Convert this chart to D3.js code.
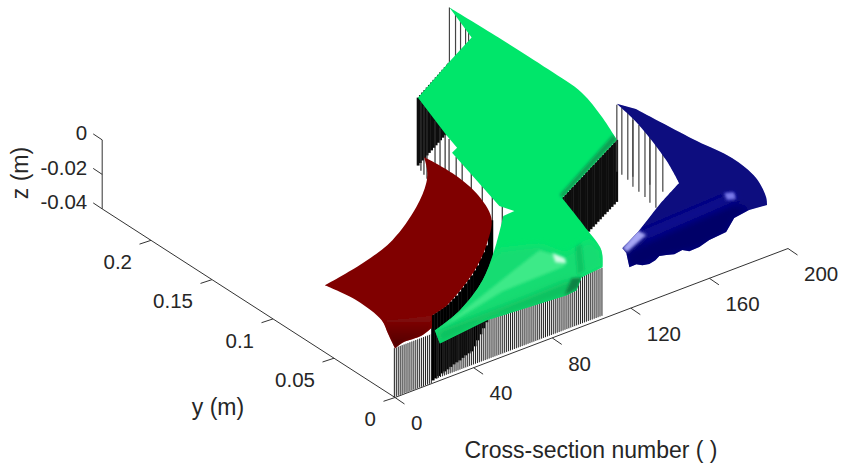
<!DOCTYPE html>
<html><head><meta charset="utf-8">
<script src="https://cdn.jsdelivr.net/npm/d3@7"></script>
<style>html,body{margin:0;background:#fff}svg{display:block}text{font-family:"Liberation Sans",Arial,sans-serif;fill:#262626}</style>
</head><body><svg id="c" width="841" height="464"></svg>
<script>
// axis ticks
const xTicks=[0,40,80,120,160,200];
const yTicks=[0,0.05,0.1,0.15,0.2];
const zTicks=[-0.04,-0.02,0];
// surfaces: [cross-section, y, z]
const redOutline=[[9,.0696,-.0116],[32.35,.0756,-.0116],[53.6,.0847,-.0116],[77.96,.1033,-.0116],[93.24,.119,-.0116],[100.1,.1289,-.0116],[105.66,.1399,-.0116],[106.68,.1192,-.0116],[104.39,.0966,-.0116],[96.69,.0727,-.0116],[81.51,.0532,-.0116],[67.21,.039,-.0116],[52.65,.0275,-.0116],[38.42,.0182,-.0116],[28.55,.0148,-.0116],[22.52,.0055,-.0116],[15.26,.0022,-.0116],[5.6,.0023,-.0116],[0,0,-.0116],[5.27,.0137,-.0116],[9.86,.0256,-.0116],[11.82,.0485,-.0116]];
const redCorners=[0,6,14,15,18];
const redFront=[[9.86,.0256,-.0116],[18.3,.0204,-.0116],[28.55,.0148,-.0116],[22.52,.0055,-.0116],[15.26,.0022,-.0116],[5.6,.0023,-.0116],[0,0,-.0116],[5.27,.0137,-.0116]];
const greenOutline=[[182.39,.2381,-.004],[183.17,.2004,-.004],[183.27,.1608,-.004],[182.39,.1332,-.004],[176.8,.1087,-.004],[170.1,.0864,-.004],[123.17,.0574,-.004],[115.18,.0251,-.004],[116.19,.0156,-.0116],[107.97,.002,-.0116],[96.16,.0004,-.0116],[95.29,.003,-.02],[89.55,.0021,-.02],[51.11,.0061,-.02],[24.36,.002,-.02],[29.27,.0136,-.02],[40.11,.0105,-.0116],[62.62,.0271,-.0116],[85.74,.0518,-.0116],[101.58,.0708,-.0116],[101.12,.0613,-.004],[98.77,.0696,-.004],[110.19,.1247,-.004],[114.33,.1271,-.004],[117.3,.1404,-.004],[126.83,.1774,-.004],[154.44,.1956,-.004],[174.44,.2083,-.004]];
const greenCorners=[0,5,6,9,10,11,12,13,14,15,19,20,21,22,23,24,25,26,27];
const greenLower=[[29.27,.0136,-.02],[90.48,.0568,-.02],[105.93,.0489,-.02],[109.32,.0335,-.02],[124.61,.0381,-.02],[123.48,.0268,-.02],[115.26,.0133,-.02],[103.44,.0117,-.02],[95.29,.003,-.02],[89.55,.0021,-.02],[51.11,.0061,-.02],[24.36,.002,-.02]];
const greenSheen=[[29.42,.0122,-.02],[103.42,.045,-.02],[107.81,.0312,-.02],[103.47,.0252,-.02],[70.87,.024,-.02]];
const greenGlint=[[106.12,.0389,-.02],[107.49,.0315,-.02],[105.63,.027,-.02],[102.57,.031,-.02]];
const greenUnder=[[24.36,.002,-.02],[29.42,.0122,-.02],[71.83,.012,-.02],[98.06,.0129,-.02],[95.29,.003,-.02],[89.55,.0021,-.02],[51.11,.0061,-.02]];
const greenPatch=[[88.9,.0027,-.02],[96.62,.0043,-.02],[103.76,.0114,-.02],[99.7,.0139,-.02]];
const greenBand=[[116.58,.0368,-.02],[120.53,.0382,-.02],[107.93,.0163,-.02],[103.15,.0144,-.02]];
const greenEdge=[[170.1,.0864,-.004],[123.17,.0574,-.004],[123.9,.0605,-.004],[171.5,.0915,-.004]];
const blueOutline=[[185.67,.1105,-.0012],[189.31,.101,-.0012],[192.96,.0582,-.0012],[195.74,.0347,-.0012],[193.45,.0121,-.0012],[196.19,.0084,-.0116],[192.49,.0019,-.0116],[191.44,.0145,-.02],[182.58,.0127,-.02],[172.95,.0042,-.02],[163.43,.0029,-.02],[156.69,.0004,-.02],[151.44,.0002,-.02],[149.68,.0031,-.02],[145.08,.0023,-.02],[141.99,.0039,-.02],[139.22,.0052,-.02],[135.91,.0032,-.02],[131.97,.0019,-.02],[129.2,.0031,-.02],[127.77,.0057,-.02],[123.99,.0054,-.02],[130.05,.0172,-.02],[131.27,.0222,-.02],[129.49,.006,-.0012],[148.52,.0196,-.0012],[166.04,.0308,-.0012],[173.39,.0525,-.0012],[182.24,.0877,-.0012]];
const blueCorners=[0,1,6,7,8,9,10,11,12,13,14,15,16,17,18,19,20,21,22,23,26];
const blueUnder=[[130.05,.0172,-.02],[159.76,.0211,-.02],[189.11,.0228,-.02],[191.44,.0145,-.02],[182.58,.0127,-.02],[172.95,.0042,-.02],[156.69,.0004,-.02],[141.99,.0039,-.02],[129.2,.0031,-.02],[123.99,.0054,-.02]];
const blueStreak=[[144.81,.0297,-.02],[195.64,.033,-.02],[192.59,.0259,-.02],[142.41,.022,-.02]];
const blueGlint=[[191.9,.0351,-.02],[195.64,.033,-.02],[192.76,.0269,-.02],[189.35,.0288,-.02]];
const blueTip=[[131.27,.0222,-.02],[145.17,.0319,-.02],[145.56,.0253,-.02],[130.88,.0177,-.02]];
// vertical stems: [cross-section, y, z of the top]
const stemsRight=[[124,.0579],[126,.0591],[128,.0604],[130,.0616],[132,.0629],[134,.0641],[136,.0653],[138,.0666],[140,.0678],[142,.069],[144,.0703],[146,.0715],[148,.0728],[150,.074],[152,.0752],[154,.0765],[156,.0777],[158,.079],[160,.0802],[162,.0814],[164,.0827],[166,.0839],[168,.0851],[170,.0864]];
const stemsLeft=[[124,.1729],[126,.1742],[128,.1755],[130,.1768],[132,.1781],[134,.1794],[136,.1807],[138,.182],[140,.1833],[142,.1846],[144,.1859],[146,.1872],[148,.1885],[150,.1898],[151.4,.1907]];
const stemsEdge=[[122.27,.168],[121.23,.164],[120.19,.16],[117.26,.1491],[115.36,.1422],[113.96,.136],[112.74,.131],[105.96,.1149],[105.4,.1093],[103.28,.0988],[100.3,.0855],[98.52,.0748],[96.72,.0641]];
const stemsTip=[[178.87,.2327],[177.8,.2262],[175.9,.2193],[174.01,.2124],[172.97,.2084]];
const stemsRed=[[20.83,.0021,-.0017],[22.81,.0028,-.0017],[25.03,.0038,-.002],[27.26,.0049,-.0023],[29.23,.0056,-.0023],[31.21,.0063,-.0023],[33.43,.0073,-.002],[35.66,.0084,-.0017],[37.63,.0091,-.0012],[39.61,.0097,0],[41.84,.0108,.0009],[44.07,.0119,.0017],[46.05,.0125,.0029],[48.02,.0132,.0041],[51.5,.0162,.0041],[55.49,.02,.0035],[59.47,.0238,.0041],[63.45,.0276,.0041],[67.44,.0314,.0046],[71.93,.036,.0081],[74.08,.0377,.0133]];
const stemsBlue=[[185.17,.1097],[185.28,.1059],[184.71,.1003],[182.81,.0933],[187.84,.1011],[182.24,.0877],[181.67,.082],[180.27,.0759],[189.32,.0899],[179.7,.0703],[190,.0807]];
const frontRedSections=d3.range(0,20), frontRedY=.0005, frontRedZ=-.0116;
const frontGreenSections=d3.range(23,109), frontGreenY=.0025, frontGreenZ=-.0122;

const ox=395, oy=397.5;
const xU=d3.scaleLinear([0,200],[0,393]), xV=d3.scaleLinear([0,200],[0,-149]);
const yU=d3.scaleLinear([0,.24],[0,-292.8]), yV=d3.scaleLinear([0,.24],[0,-188.6]);
const zV=d3.scaleLinear([-.04,0],[0,-69]);
const P=(s,y,z)=>[ox+xU(s)+yU(y), oy+xV(s)+yV(y)+zV(z)];
// surface readings were taken against slightly different axis lengths
const sRead=.99, yRead=1.034;
const M=(s,y,z)=>P(s*sRead,y*yRead,z);

const svg=d3.select('#c');
const defs=svg.append('defs');
defs.append('filter').attr('id','b0').append('feGaussianBlur').attr('stdDeviation',.4);
defs.append('filter').attr('id','b1').attr('x','-20%').attr('y','-20%').attr('width','140%').attr('height','140%').append('feGaussianBlur').attr('stdDeviation',1.5);
defs.append('filter').attr('id','b2').attr('x','-30%').attr('y','-30%').attr('width','160%').attr('height','160%').append('feGaussianBlur').attr('stdDeviation',3.5);
const lg=(id,a,b,dir)=>{const g=defs.append('linearGradient').attr('id',id).attr('x1',0).attr('y1',0).attr('x2',dir?1:0).attr('y2',dir?0:1);
 g.append('stop').attr('offset',0).attr('stop-color',a);g.append('stop').attr('offset',1).attr('stop-color',b);};
lg('redG','#860808','#4c0000');

const root=svg.append('g').attr('filter','url(#b0)');
const line=d3.line();
const smooth=d3.line().curve(d3.curveCatmullRom.alpha(.5));
const outlinePath=(pts,corners)=>{
  const xy=pts.map(d=>M(d[0],d[1],d[2]));let out='';
  corners.forEach((c,i)=>{const e=i<corners.length-1?corners[i+1]:xy.length;
    const seg=xy.slice(c,e).concat(e===xy.length?[xy[0]]:[xy[e]]);
    const d=smooth(seg);out+=i===0?d:'L'+d.slice(1);});
  return out+'Z';};
const stems=(g,rows,z,w,col)=>g.selectAll(null).data(rows).join('line')
  .attr('x1',d=>M(d[0],d[1],d.length>2?d[2]:z)[0]).attr('y1',d=>M(d[0],d[1],d.length>2?d[2]:z)[1])
  .attr('x2',d=>M(d[0],d[1],-.04)[0]).attr('y2',d=>M(d[0],d[1],-.04)[1])
  .attr('stroke',col).attr('stroke-width',w);
const poly=(pts,fill,filter,g)=>{const p=(g||root).append('path').attr('d',line(pts.map(d=>M(d[0],d[1],d[2])))+'Z').attr('fill',fill);
  if(filter)p.attr('filter',`url(#${filter})`);return p;};

// axes
const ax=root.append('g').attr('stroke','#333').attr('stroke-width',1).attr('fill','none');
const L=(a,b)=>ax.append('line').attr('x1',a[0]).attr('y1',a[1]).attr('x2',b[0]).attr('y2',b[1]);
L(P(0,0,-.04),P(200,0,-.04));L(P(0,0,-.04),P(0,.24,-.04));L(P(0,.24,-.04),P(0,.24,0));
const tg=svg.append('g').attr('font-size',20.5);
xTicks.forEach(t=>{const a=P(t,0,-.04);L(a,[a[0]+9.5,a[1]+6.5]);
  tg.append('text').attr('x',a[0]+16).attr('y',a[1]+25.5).attr('dy','.35em').text(t);});
yTicks.forEach(t=>{const a=P(0,t,-.04);L(a,[a[0]-11.5,a[1]+3.8]);
  tg.append('text').attr('x',a[0]-19).attr('y',a[1]+21.5).attr('dy','.35em').attr('text-anchor','end').text(t);});
zTicks.forEach(t=>{const a=P(0,.24,t);L(a,[a[0]-9,a[1]-6]);
  tg.append('text').attr('x',a[0]-15).attr('y',a[1]-7).attr('dy','.35em').attr('text-anchor','end').text(t);});
const lb=svg.append('g').attr('font-size',23);
lb.append('text').attr('x',591).attr('y',450).attr('dy','.35em').attr('text-anchor','middle').text('Cross-section number ( )');
lb.append('text').attr('x',218).attr('y',407).attr('dy','.35em').attr('text-anchor','middle').text('y (m)');
lb.append('text').attr('transform','translate(20,173) rotate(-90)').attr('dy','.35em').attr('text-anchor','middle').text('z (m)');

// stems (behind surfaces)
const st=root.append('g');
stems(st.append('g'),stemsRight,-.004,2.8,'#0a0a0a');
stems(st.append('g'),stemsLeft,-.0006,2.8,'#0a0a0a');
stems(st.append('g'),stemsEdge,0,1.2,'#333');
stems(st.append('g'),stemsTip,0,1.2,'#444');
stems(st.append('g'),stemsBlue,-.0012,1.2,'#444');
stems(st.append('g'),stemsRed,null,3.4,'#050505');
stems(st.append('g'),frontRedSections.map(s=>[s,frontRedY,frontRedZ]),null,1,'#222');
stems(st.append('g'),frontGreenSections.map(s=>[s,frontGreenY,frontGreenZ]),null,1,'#222');

// surfaces
const rp=outlinePath(redOutline,redCorners), gp=outlinePath(greenOutline,greenCorners), bp=outlinePath(blueOutline,blueCorners);
defs.append('clipPath').attr('id','cr').append('path').attr('d',rp);
defs.append('clipPath').attr('id','cg').append('path').attr('d',gp);
defs.append('clipPath').attr('id','cb').append('path').attr('d',bp);
root.append('path').attr('d',rp).attr('fill','#800000');
const rg=root.append('g').attr('clip-path','url(#cr)');
poly(redFront,'url(#redG)','b1',rg);
root.append('path').attr('d',gp).attr('fill','#00e66b');
const gg=root.append('g').attr('clip-path','url(#cg)');
poly(greenLower,'#14dc72','b2',gg);
poly(greenSheen,'#3eea88','b1',gg);
poly(greenUnder,'#0abf5e','b2',gg);
poly(greenBand,'#0cc664','b1',gg);
poly(greenPatch,'#0a8444','b1',gg);
poly(greenGlint,'#d2fde6','b1',gg);
poly(greenEdge,'#0a9f55','b1',gg);
root.append('path').attr('d',bp).attr('fill','#08087f');
const bg=root.append('g').attr('clip-path','url(#cb)');
poly(blueUnder,'#030368','b2',bg);
poly(blueStreak,'#10108f','b2',bg);
poly(blueGlint,'#7a7aea','b1',bg);
poly(blueTip,'#a6a6f4','b1',bg);
</script></body></html>
